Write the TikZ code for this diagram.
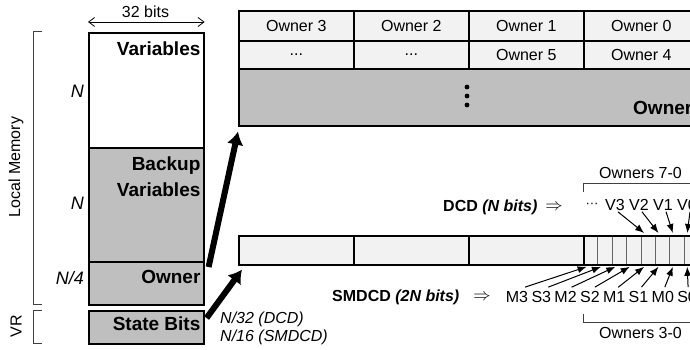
\documentclass[tikz,border=0pt]{standalone}
\usepackage{fontspec}
\setmainfont{Liberation Sans}
\usetikzlibrary{arrows.meta}

\newcommand{\bacham}{...}

\tikzset{
    o/.style={draw, line width=1.6pt, minimum width=115pt, anchor=north west, inner sep=0pt},
    xam/.style={fill=black!25},
    nhat/.style={fill=black!5},
    nhan/.style={font=\fontsize{19}{26}\selectfont\bfseries, inner sep=0pt},
    chu/.style={font=\fontsize{16}{19}\selectfont, inner sep=1pt},
    nghieng/.style={font=\fontsize{18}{21}\selectfont\itshape, inner sep=0pt},
    ngoac/.style={line width=1pt, black!75},
    muiten/.style={-{Latex[length=13pt,width=17pt]}, line width=6pt},
    muinho/.style={-{Latex[length=9pt,width=7pt]}, line width=1pt},
}

\begin{document}
\begin{tikzpicture}[x=1pt, y=-1pt]
    \useasboundingbox (0,0) rectangle (690,350);
    \clip (0,0) rectangle (690,350);

    % Bộ nhớ cục bộ
    \node[o, fill=white, minimum height=115pt] (var) at (88,32) {};
    \node[o, xam, minimum height=114pt] (bak) at (88,147) {};
    \node[o, xam, minimum height=43pt] (own) at (88,261) {};
    \node[o, xam, minimum height=33pt] (sta) at (88,310) {};
    \node[nhan, anchor=north east] (varl) at ([xshift=-4pt,yshift=-10pt]var.north east) {Variables};
    \node[nhan, anchor=north east, align=right] (bakl) at ([xshift=-4pt,yshift=-10pt]bak.north east) {Backup\\Variables};
    \node[nhan, anchor=north east] (ownl) at ([xshift=-4pt,yshift=-9pt]own.north east) {Owner};
    \node[nhan, anchor=north east] (stal) at ([xshift=-4pt,yshift=-7pt]sta.north east) {State Bits};

    % 32 bits
    \draw[{Straight Barb[length=6pt,width=9pt]}-{Straight Barb[length=6pt,width=9pt]}, line width=0.8pt]
        ([yshift=10pt]var.north west) -- ([yshift=10pt]var.north east);
    \node[chu] (bits) at (145.5,12) {32 bits};

    % Kích thước
    \node[nghieng, anchor=east] (n1) at (84,91) {N};
    \node[nghieng, anchor=east] (n2) at (84,203) {N};
    \node[nghieng, anchor=east] (n3) at (84,278) {N/4};

    % Ngoặc bên trái
    \draw[ngoac] (42,32) -- (33,32) -- (33,304) -- (42,304);
    \draw[ngoac] (42,310) -- (33,310) -- (33,343) -- (42,343);
    \node[chu, rotate=90] (lm) at (16,167) {Local Memory};
    \node[chu, rotate=90] (vr) at (16,326) {VR};

    % Bảng chủ sở hữu
    \foreach \i/\a/\b in {0/Owner 3/\bacham, 1/Owner 2/\bacham, 2/Owner 1/Owner 5, 3/Owner 0/Owner 4} {
        \node[o, nhat, minimum height=30pt, font=\fontsize{16}{19}\selectfont] (t\i) at (238+115*\i,10) {\a};
        \node[o, nhat, minimum height=28pt, font=\fontsize{16}{19}\selectfont] (u\i) at (238+115*\i,40) {\b};
    }
    \node[o, xam, minimum width=500pt, minimum height=57pt] (ownrow) at (238,68) {};
    \foreach \y in {87,96,105}
        \fill (467,\y) circle (2.4pt);
    \node[nhan, anchor=west] (ownrowl) at (633,108) {Owner};

    % Thanh bit trạng thái
    \foreach \i in {0,1,2}
        \node[o, nhat, minimum height=29pt] (b\i) at (238+115*\i,235) {};
    \foreach \i in {0,...,7}
        \node[o, nhat, draw=black!60, line width=0.8pt, minimum width=14.375pt, minimum height=29pt] (c\i) at (583+14.375*\i,235) {};
    \node[o, minimum height=29pt] (b3) at (583,235) {};

    % Mũi tên lớn
    \draw[muiten] ([xshift=4pt,yshift=-6pt]own.north east) -- ([yshift=-5pt]ownrow.south west);
    \draw[muiten] ([xshift=2pt,yshift=-8pt]sta.north east) -- ([xshift=4pt,yshift=-4pt]b0.south west);
    \node[chu, font=\fontsize{16}{19}\selectfont\itshape, anchor=west] (nd) at (219,319) {N/32 (DCD)};
    \node[chu, font=\fontsize{16}{19}\selectfont\itshape, anchor=west] (ns) at (219,337) {N/16 (SMDCD)};

    % DCD
    \node[chu, anchor=west] (dcd) at (442,207) {\textbf{DCD \textit{(N bits)}}};
    \node[chu] (dcdm) at (554,207) {$\Rightarrow$};
    \node[chu, font=\fontsize{13}{16}\selectfont] (vdot) at (592,205) {···};
    \foreach \n/\c [count=\i from 0] in {V3/4, V2/5, V1/6, V0/7} {
        \node[chu] (\n) at (615+24*\i,205) {\n};
        \draw[muinho] ([xshift=3pt]\n.south) -- ([xshift=-4pt,yshift=2pt]c\c.north);
    }
    \draw[ngoac] ([yshift=43pt]c0.north west) -- ([yshift=52pt]c0.north west)
        -- ([yshift=52pt]c7.north east) -- ([yshift=43pt]c7.north east);
    \node[chu] (o70) at (640.5,173) {Owners 7-0};

    % SMDCD
    \node[chu, anchor=west] (smd) at (331,297) {\textbf{SMDCD \textit{(2N bits)}}};
    \node[chu] (smdm) at (482,297) {$\Rightarrow$};
    \foreach \n [count=\i from 0] in {M3, S3, M2, S2, M1, S1, M0, S0} {
        \node[chu] (\n) at (517+24.3*\i,297) {\n};
        \draw[muinho] ([xshift=8pt-\i pt,yshift=3pt]\n.north) -- ([xshift=-4pt,yshift=-2pt]c\i.south);
    }
    \draw[ngoac] ([yshift=-49pt]c0.south west) -- ([yshift=-58pt]c0.south west)
        -- ([yshift=-58pt]c7.south east) -- ([yshift=-49pt]c7.south east);
    \node[chu] (o30) at (640.5,333) {Owners 3-0};
\end{tikzpicture}
\end{document}
